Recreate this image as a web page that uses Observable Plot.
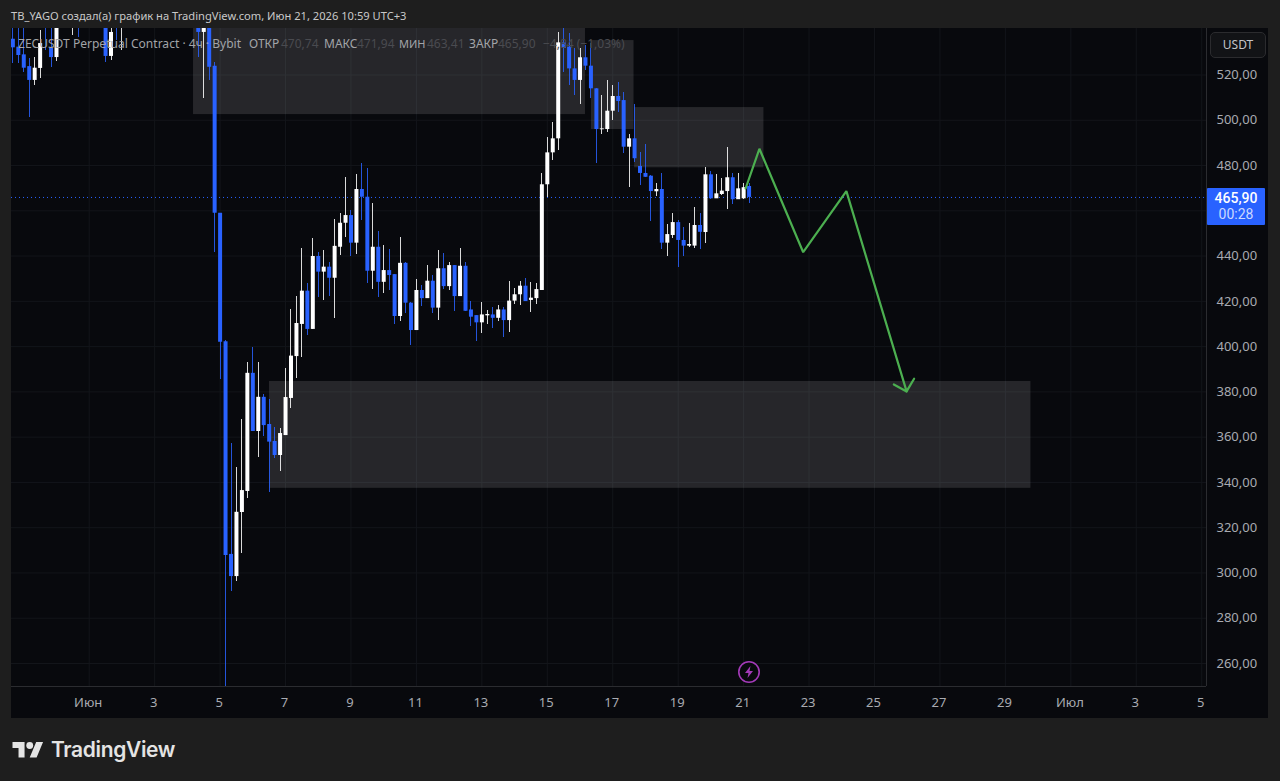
<!DOCTYPE html>
<html><head><meta charset="utf-8">
<script src="https://cdn.jsdelivr.net/npm/d3@7"></script>
<script src="https://cdn.jsdelivr.net/npm/@observablehq/plot@0.6"></script>
<style>
html,body{margin:0;padding:0;background:#1e1e1e;width:1280px;height:781px;overflow:hidden;font-family:"Noto Sans",sans-serif}
#wrap{position:relative;width:1280px;height:781px}
#chart{position:absolute;left:11px;top:28px}
#chart svg{display:block}
.t{position:absolute;white-space:nowrap}
</style></head><body>
<div id="wrap">
<div class="t" style="left:11px;top:8px;font-size:11.15px;line-height:15px;color:#c9c9c9">TB_YAGO создал(а) график на TradingView.com, Июн 21, 2026 10:59 UTC+3</div>
<div id="chart"></div>
<div class="t" style="left:18px;top:36px;font-size:12.05px;line-height:16px;color:#a2a4a8">ZECUSDT Perpetual Contract · 4ч · Bybit</div>
<div class="t" style="left:249px;top:36px;font-size:12px;line-height:16px;color:#a2a4a8">ОТКР</div>
<div class="t" style="left:281px;top:36px;font-size:12px;line-height:16px;color:#4a4b50">470,74</div>
<div class="t" style="left:324px;top:36px;font-size:12px;line-height:16px;color:#a2a4a8">МАКС</div>
<div class="t" style="left:357px;top:36px;font-size:12px;line-height:16px;color:#4a4b50">471,94</div>
<div class="t" style="left:399px;top:36px;font-size:11px;line-height:16px;color:#a2a4a8">МИН</div>
<div class="t" style="left:427px;top:36px;font-size:12px;line-height:16px;color:#4a4b50">463,41</div>
<div class="t" style="left:469px;top:36px;font-size:12px;line-height:16px;color:#a2a4a8">ЗАКР</div>
<div class="t" style="left:498px;top:36px;font-size:12px;line-height:16px;color:#4a4b50">465,90</div>
<div class="t" style="left:543px;top:36px;font-size:12px;line-height:16px;color:#4a4b50">−4,84 (−1,03%)</div>
<div class="t" style="left:1210px;top:32px;width:54px;height:24px;border:1px solid #2b2b2e;border-radius:5px;background:#121316;color:#c4c4c8;font-size:12px;line-height:24px;text-align:center">USDT</div>
<div class="t" style="left:1207px;top:188px;width:58px;height:37px;background:#2962ff;border-radius:1px"></div>
<div class="t" style="left:1207px;top:190px;width:58px;text-align:center;font-family:Roboto,sans-serif;font-size:14px;line-height:16px;color:#fff;font-weight:500">465,90</div>
<div class="t" style="left:1207px;top:206px;width:58px;text-align:center;font-family:Roboto,sans-serif;font-size:14px;line-height:16px;color:#cbd8ff">00:28</div>
<svg class="t" style="left:737px;top:660px" width="24" height="24" viewBox="0 0 24 24"><circle cx="12" cy="12" r="10.2" fill="#08090d" stroke="#a33ab8" stroke-width="1.6"/><path d="M13.5 6 8 13h3.5l-1 5 5.5-7h-3.5z" fill="#a33ab8"/></svg>
<svg class="t" style="left:12px;top:742px" width="32" height="15.5" viewBox="0 4 36 18"><path fill="#e4e4e4" d="M14 22H7V11H0V4h14zM28 22h-8l7.5-18h8z"/><circle cx="20" cy="8" r="4" fill="#e4e4e4"/></svg>
<div class="t" style="left:51px;top:736px;font-family:Inter,sans-serif;font-weight:600;font-size:21px;line-height:28px;color:#e4e4e4;letter-spacing:-.35px">TradingView</div>
</div>
<script>
const candleStep = [-38,-37,-36,-35,-34,-33,-32,-31,-30,-27,-26,-21,-20,-19,-18,-4,-3,-2,-1,
0,1,2,3,4,5,6,7,8,9,
10,11,12,13,14,15,16,17,18,19,
20,21,22,23,24,25,26,27,28,29,
30,31,32,33,34,35,36,37,38,39,
40,41,42,43,44,45,46,47,48,49,
50,51,52,53,54,55,56,57,58,59,
60,61,62,63,64,65,66,67,68,69,
70,71,72,73,74,75,76,77,78,79,
80,81,82,83,84,85,86,87,88,89,
90,91,92,93,94,95,96,97];
const openPrice = [535.8,532.3,528.9,523.7,517.6,522.9,552,531.7,527.7,548,552,548,528.2,552,543,545,538.8,541.5,523.9,
458.9,402.2,308.2,298.4,326.7,336.0,388.2,362.5,377.6,365.6,
358.1,351.9,360.7,377.1,395.6,409.8,424.5,407.6,439.8,432.9,
435.1,430.2,443.9,454.5,457.9,445.7,469.4,466.0,433.3,443.9,
428.4,433.6,431.8,413.3,436.8,419.2,407.1,424.8,421.2,428.9,
417.0,434.4,426.5,435.8,422.1,435.5,416.2,413.7,410.5,413.6,
414.0,412.5,416.2,411.5,420.1,422.9,426.7,420.4,421.2,424.8,
471.5,485.6,491.8,534.2,532.3,522.7,517.6,527.6,523.9,513.9,
495.8,495.9,504.0,510.5,508.7,488.1,491.8,479.6,476.5,475.3,
468.4,469.4,445.7,449.1,454.8,446.9,444.4,444.4,453.5,450.4,
475.9,465.3,467.2,468.5,474.6,464.9,465.3,470.74];
const closePrice = [532.0,528.6,523.0,517.6,523.0,533.9,545,527.7,550,552,545,528.2,538.8,545,550,538.8,541.5,523.4,458.9,
401.9,307.7,298.4,326.8,336.4,388.2,362.5,377.6,365.1,357.8,
351.9,361.6,377.5,395.8,410.2,424.5,407.6,439.8,432.9,435.1,
430.2,444.3,454.5,457.9,445.7,469.4,466.0,433.3,443.9,428.4,
433.6,431.4,413.3,436.8,419.2,407.1,424.8,421.2,428.9,417.0,
434.4,426.5,435.8,422.1,435.5,415.6,413.0,410.5,414.0,414.2,
412.5,416.2,411.5,420.1,422.9,426.7,419.9,421.4,425.2,471.5,
485.6,491.8,534.2,531.7,522.7,517.6,527.6,523.9,513.9,495.9,
496.2,504.0,510.5,508.3,488.1,491.8,483.0,476.5,474.8,468.5,
469.4,445.7,449.5,454.8,446.9,444.4,445.1,453.5,450.5,475.9,
465.3,467.5,468.7,474.6,464.9,469.7,470.2,465.90];
const highPrice = [545,545,545,527.3,527.7,539.6,556,545,555,556,556,552,545,556,554,548,545,545,525.6,
459,402.7,357.3,346.7,367.8,393.1,399.7,393.1,378.8,376.6,
364.4,363.8,390.3,416.2,422.3,443.3,427.9,447.8,441.7,442.4,
437.3,456.1,458.8,474.7,460.1,476.0,481.0,478.7,463.3,450.8,
444.7,442.9,432.0,448.2,437.0,419.5,429.6,427.0,435.8,431.4,
442.4,441.3,437.3,436.0,443.5,437.2,419.9,413.7,419.6,416.0,
417.3,418.1,417.3,428.8,425.7,428.8,430.1,428.4,427.9,476.5,
492.5,499.0,538.8,541,538.3,531.7,531.7,533.0,533.9,514.0,
510.9,517.6,515.3,516.7,512.4,493.6,507.0,485.9,489.3,475.5,
472.0,476.5,453.9,458.7,455.7,452.6,454.5,461.4,458.8,479.0,
477.5,475.9,474.3,487.8,476.6,476.3,472.2,471.94];
const lowPrice = [525.1,525.1,521,501.3,515.3,518.4,530.8,523.3,526,537.4,536.6,525.5,526.4,535.2,530.8,527.7,509.6,517.6,441.7,
385.5,249,291.8,296.3,308.7,332.9,362.5,351.0,360.3,335.5,
350.6,344.9,360.7,372.8,385.9,395.3,404.9,407.6,421.8,420.4,
422.1,412.4,440.2,448.3,439.8,440.7,455.7,428.0,425.2,421.7,
423.6,424.8,409.8,411.1,414.6,400.5,407.1,417.7,421.2,414.6,
411.5,425.2,424.8,415.6,422.0,415.6,408.9,402.4,405.8,409.8,
408.0,411.2,404.0,406.4,418.6,418.2,419.9,415.2,418.6,424.8,
466.0,482.2,486.6,521.2,515.3,510.9,506.8,522.0,509.6,480.9,
493.7,494.7,499.9,503.4,485.3,470.4,481.5,471.2,474.5,455.4,
466.4,442.9,439.8,447.8,434.9,439.8,444.0,443.5,442.9,445.7,
465.0,465.3,466.8,460.6,462.8,464.9,465.0,463.41];

const zoneStart = ["2026-06-04T04:30Z","2026-06-16T08:24Z","2026-06-17T16:00Z","2026-06-06T12:14Z"];
const zoneEnd   = ["2026-06-16T04:00Z","2026-06-17T15:36Z","2026-06-21T14:53Z","2026-06-29T18:43Z"];
const zoneLow   = [502.5,495.9,479.0,337.4];
const zoneHigh  = [560,535.2,505.6,384.6];

const pathTime = ["2026-06-21T01:26Z","2026-06-21T11:34Z","2026-06-22T19:41Z","2026-06-24T03:22Z","2026-06-25T23:31Z"];
const pathPrice = [469.85,487.4,441.7,468.7,380.2];
const headTime = ["2026-06-25T14:10Z","2026-06-25T23:31Z","2026-06-26T05:02Z"];
const headPrice = [383.3,380.2,385.8];

const lastPrice = 465.9;
const priceTicks = [260,280,300,320,340,360,380,400,420,440,460,480,500,520];
const priceLabels = [260,280,300,320,340,360,380,400,420,440,480,500,520];
const dateTicks = ["2026-06-01","2026-06-03","2026-06-05","2026-06-07","2026-06-09","2026-06-11","2026-06-13","2026-06-15","2026-06-17","2026-06-19","2026-06-21","2026-06-23","2026-06-25","2026-06-27","2026-06-29","2026-07-01","2026-07-03","2026-07-05"].map(s=>new Date(s+"T00:00Z"));
const monthNames = {5:"Июн",6:"Июл"};

const t0 = Date.UTC(2026,5,5);
const candles = candleStep.map((k,i)=>({
  t:new Date(t0+k*4*3600e3), o:openPrice[i], h:highPrice[i], l:lowPrice[i], c:closePrice[i], up:closePrice[i]>=openPrice[i]
}));
const zones = zoneStart.map((s,i)=>({a:new Date(s),b:new Date(zoneEnd[i]),lo:zoneLow[i],hi:zoneHigh[i]}));
const pathData = pathTime.map((s,i)=>({t:new Date(s),p:pathPrice[i]}));
const headData = headTime.map((s,i)=>({t:new Date(s),p:headPrice[i]}));
const UP="#ffffff", DOWN="#2962ff", GRID="#13151a", AXIS="#2b2c30", LABEL="#a9abb1", GREEN="#4caf50";
const col=d=>d.up?UP:DOWN;
const xMin=new Date("2026-05-29T15:00Z"), xMax=new Date("2026-07-05T03:30Z");

const chart = Plot.plot({
  width:1257,height:690,marginTop:0,marginLeft:0,marginRight:62,marginBottom:32,
  style:{background:"#08090d",fontFamily:"'Noto Sans',sans-serif",fontSize:"13px",color:LABEL},
  x:{type:"utc",domain:[xMin,xMax]},
  y:{type:"linear",domain:[249.84,540.54]},
  marks:[
    Plot.ruleX(dateTicks,{stroke:GRID,strokeWidth:1}),
    Plot.ruleY(priceTicks,{stroke:GRID,strokeWidth:1}),
    Plot.rect(zones,{x1:"a",x2:"b",y1:"lo",y2:"hi",fill:"#ffffff",fillOpacity:0.12,clip:true}),
    Plot.ruleY([lastPrice],{stroke:DOWN,strokeWidth:1,strokeDasharray:"1,3"}),
    Plot.ruleX(candles,{x:"t",y1:"l",y2:"h",stroke:col,strokeWidth:1,strokeOpacity:.85,shapeRendering:"crispEdges",clip:true}),
    Plot.ruleX(candles,{x:"t",y1:"o",y2:"c",stroke:col,strokeWidth:4,clip:true}),
    Plot.line(pathData,{x:"t",y:"p",stroke:GREEN,strokeWidth:2.2,strokeLinejoin:"miter",clip:true}),
    Plot.line(headData,{x:"t",y:"p",stroke:GREEN,strokeWidth:2.2,clip:true}),
    Plot.ruleX([xMax],{stroke:AXIS}),
    Plot.ruleY([249.84],{stroke:AXIS}),
    Plot.axisY({anchor:"right",ticks:priceLabels,tickSize:0,tickPadding:10,label:null,
      tickFormat:d=>d3.format(".2f")(d).replace(".",","),fill:LABEL,fontSize:13}),
    Plot.axisX({anchor:"bottom",ticks:dateTicks,tickSize:0,tickPadding:11,label:null,dx:-1,
      tickFormat:d=>d.getUTCDate()===1?monthNames[d.getUTCMonth()]:String(d.getUTCDate()),fill:LABEL,fontSize:13})
  ]
});
document.getElementById("chart").appendChild(chart);
</script>
</body></html>
